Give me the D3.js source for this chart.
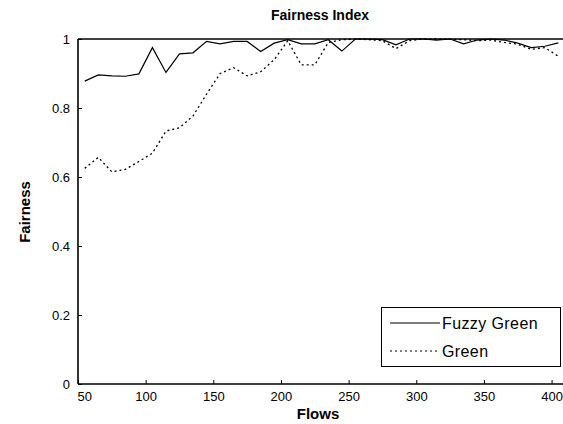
<!DOCTYPE html>
<html><head><meta charset="utf-8">
<script src="https://cdn.jsdelivr.net/npm/d3@7"></script>
<style>body{margin:0;background:#fff}svg{display:block}text{font-family:"Liberation Sans",Arial,sans-serif;fill:#000}</style>
</head><body><svg id="c" width="563" height="424"></svg>
<script>
const flows = [55,65,75,85,95,105,115,125,135,145,155,165,175,185,195,205,215,225,235,245,255,265,275,285,295,305,315,325,335,345,355,365,375,385,395,405];
const fuzzyGreen = [0.878,0.896,0.893,0.892,0.899,0.975,0.903,0.957,0.960,0.993,0.986,0.993,0.993,0.964,0.988,0.998,0.986,0.986,0.998,0.965,1.0,1.0,0.998,0.983,1.0,1.0,0.997,1.0,0.986,0.997,1.0,0.997,0.988,0.975,0.979,0.989];
const green = [0.625,0.657,0.615,0.622,0.645,0.669,0.733,0.743,0.777,0.840,0.900,0.917,0.893,0.905,0.940,0.995,0.925,0.925,0.990,0.998,1.0,0.998,0.995,0.972,0.995,1.0,1.0,0.999,0.998,0.995,0.997,0.990,0.985,0.970,0.975,0.950];
const xTicks = [50,100,150,200,250,300,350,400];
const yTicks = [0,0.2,0.4,0.6,0.8,1];
const seriesNames = ["Fuzzy Green","Green"];

const svg = d3.select("#c");
const L=78,R=562,T=39,B=384;
const x = d3.scaleLinear().domain([50,407.7]).range([L,R]);
const y = d3.scaleLinear().domain([0,1]).range([B,T]);

svg.append("line").attr("x1",L).attr("x2",563).attr("y1",T).attr("y2",T).attr("stroke","#000").attr("stroke-width",1.5);

const xa = svg.append("g").attr("transform",`translate(0,${B})`)
  .call(d3.axisBottom(x).tickValues(xTicks).tickSize(-4).tickPadding(8).tickFormat(d3.format("d")));
xa.select(".domain").attr("d",`M${L},0H563`).attr("stroke-width",1.6);
xa.selectAll("text").attr("font-size","13px").style("font-family","Liberation Sans, Arial, sans-serif");
xa.selectAll(".tick").filter(d=>d===50).select("text").attr("text-anchor","start").attr("x",-1);

const ya = svg.append("g").attr("transform",`translate(${L},0)`)
  .call(d3.axisLeft(y).tickValues(yTicks).tickSize(-4).tickPadding(8).tickFormat(d=>d===0||d===1?String(d):d.toFixed(1)));
ya.select(".domain").attr("d",`M0,${T}V${B}`).attr("stroke-width",1.6);
ya.selectAll("text").attr("font-size","13px").style("font-family","Liberation Sans, Arial, sans-serif");

const line = (arr)=> d3.line().x((d,i)=>x(flows[i])).y(d=>y(d))(arr);
svg.append("path").attr("d",line(green)).attr("fill","none").attr("stroke","#000").attr("stroke-width",1.3).attr("stroke-dasharray","2,3");
svg.append("path").attr("d",line(fuzzyGreen)).attr("fill","none").attr("stroke","#000").attr("stroke-width",1.2);

svg.append("text").attr("x",320).attr("y",20).attr("text-anchor","middle").attr("font-size","14px").attr("font-weight","bold").text("Fairness Index");
svg.append("text").attr("x",318).attr("y",419).attr("text-anchor","middle").attr("font-size","15px").attr("font-weight","bold").text("Flows");
svg.append("text").attr("transform","translate(30,212) rotate(-90)").attr("text-anchor","middle").attr("font-size","15px").attr("font-weight","bold").text("Fairness");

const lg = svg.append("g");
lg.append("rect").attr("x",381.5).attr("y",307.5).attr("width",179).attr("height",59).attr("fill","#fff").attr("stroke","#000").attr("stroke-width",1);
const dashes = [null,"2,3"];
seriesNames.forEach((n,i)=>{
  const yy = 323 + i*28;
  lg.append("line").attr("x1",390).attr("x2",440).attr("y1",yy).attr("y2",yy).attr("stroke","#000").attr("stroke-width",1.2).attr("stroke-dasharray",dashes[i]);
  lg.append("text").attr("x",442).attr("y",yy+5.5).attr("font-size","16px").attr("letter-spacing","0.4px").text(n);
});
</script></body></html>
